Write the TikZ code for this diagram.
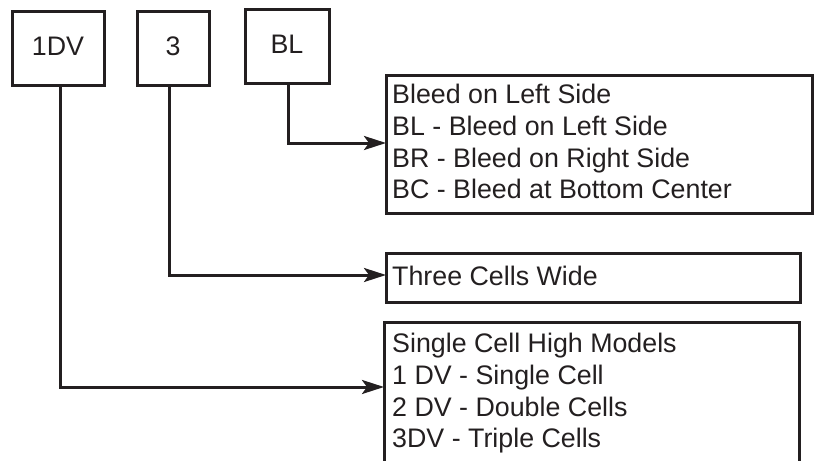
\documentclass[tikz,border=0pt]{standalone}
\usepackage{fontspec}
\setmainfont{Liberation Sans}
\usetikzlibrary{arrows.meta,calc}
\definecolor{ink}{HTML}{231F20}
\begin{document}
\begin{tikzpicture}[x=1pt,y=-1pt,
  box/.style={draw=ink,line width=3pt,inner sep=0pt,outer sep=0pt,anchor=north west},
  txt/.style={text=ink,inner sep=0pt,font=\fontsize{26.8}{32}\selectfont},
  conn/.style={draw=ink,line width=3pt,-{Stealth[length=22pt,width=14pt,inset=5pt]}}]
\useasboundingbox (0,0) rectangle (815,461);
% top boxes
\node[box,minimum width=92pt,minimum height=74pt] (b1) at (12,11) {};
\node[box,minimum width=72pt,minimum height=74pt] (b3) at (137,11) {};
\node[box,minimum width=84pt,minimum height=74pt] (bbl) at (245,9) {};
\node[txt,anchor=base] (t1) at (58,55) {1DV};
\node[txt,anchor=base] (t3) at (173,55) {3};
\node[txt,anchor=base] (tbl) at (287,53) {BL};
% right boxes
\node[box,minimum width=426pt,minimum height=138pt] (bleed) at (386,75) {};
\node[box,minimum width=414pt,minimum height=49pt] (wide) at (386,253) {};
\node[box,minimum width=415pt,minimum height=160pt] (high) at (384,322) {};
\coordinate (highin) at ($(high.north west)+(0,65)$);
% texts
\node[txt,anchor=base west] (l1) at (392,103) {Bleed on Left Side};
\node[txt,anchor=base west] (l2) at (392,135) {BL - Bleed on Left Side};
\node[txt,anchor=base west] (l3) at (392,167) {BR - Bleed on Right Side};
\node[txt,anchor=base west] (l4) at (392,198) {BC - Bleed at Bottom Center};
\node[txt,anchor=base west] (w1) at (392,285) {Three Cells Wide};
\node[txt,anchor=base west] (h1) at (392,352) {Single Cell High Models};
\node[txt,anchor=base west] (h2) at (392,384) {1 DV - Single Cell};
\node[txt,anchor=base west] (h3) at (392,416) {2 DV - Double Cells};
\node[txt,anchor=base west] (h4) at (392,447) {3DV - Triple Cells};
% connectors
\draw[conn] ([xshift=1pt]bbl.south) |- ($(bleed.north west)+(0,68)$);
\draw[conn] ([xshift=-4pt]b3.south) |- ($(wide.north west)+(0,22)$);
\draw[conn] ([xshift=2pt]b1.south) |- (highin);
\end{tikzpicture}
\end{document}
